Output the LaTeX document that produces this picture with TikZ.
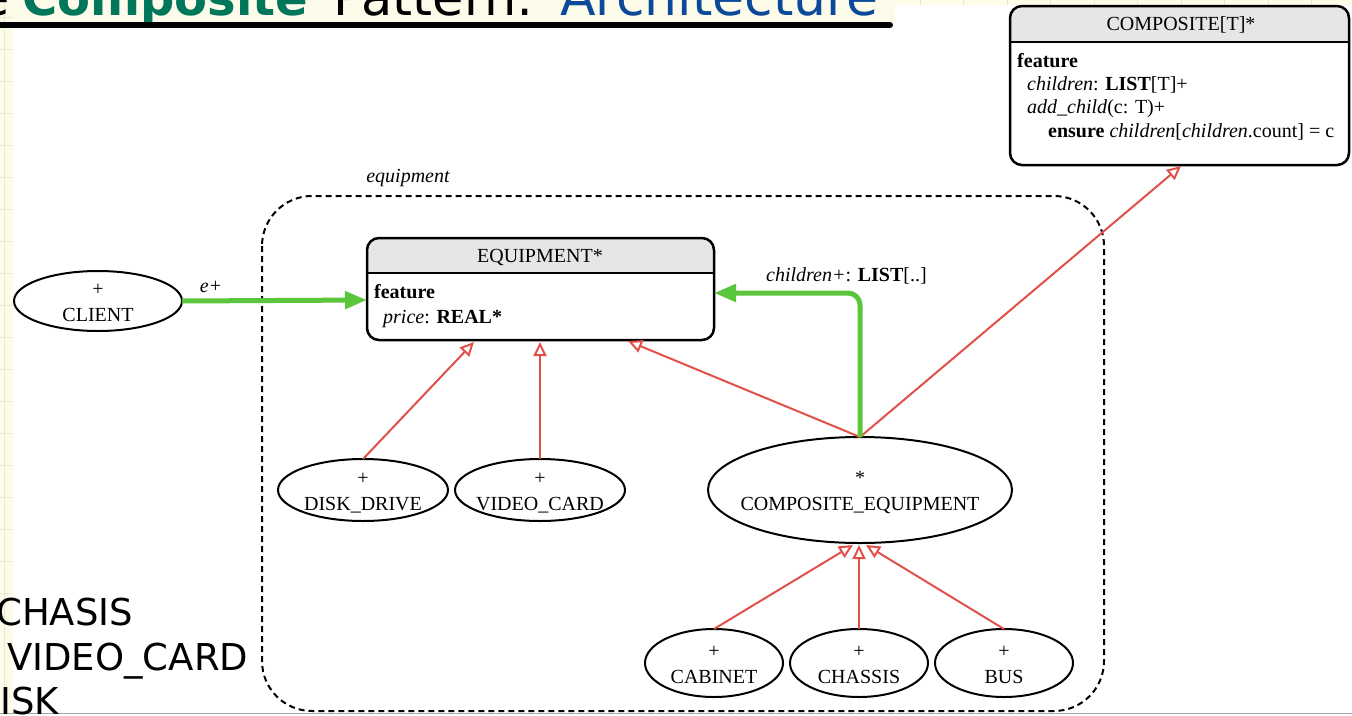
\documentclass[tikz,border=0pt]{standalone}
\usepackage{fontspec}
\setmainfont{Liberation Serif}
\newfontfamily\titlefont{DejaVu Sans}
\usetikzlibrary{arrows.meta,shapes.geometric}
\definecolor{hdr}{HTML}{E6E6E6}
\definecolor{gr}{HTML}{5BC63B}
\definecolor{rd}{HTML}{E2504A}
\definecolor{tgreen}{HTML}{00775A}
\definecolor{tblue}{HTML}{0B4A9B}
\definecolor{paper}{HTML}{FDFBEA}
\definecolor{gridc}{HTML}{ECE7CF}
\begin{document}
\begin{tikzpicture}[x=1pt,y=-1pt,
  font=\fontsize{20}{24}\selectfont,
  oval/.style={ellipse, draw, line width=2pt, inner sep=0pt, outer sep=0pt},
  umlbox/.style={rectangle, draw, line width=2.5pt, rounded corners=12pt, inner sep=0pt, outer sep=0pt, anchor=north west},
  inh/.style={draw=rd, line width=2pt, -{Triangle[open, length=14pt, width=13pt]}},
  assoc/.style={draw=gr, line width=5pt, -{Triangle[length=22pt, width=17pt]}},
  txt/.style={anchor=base, inner sep=0pt},
  txtl/.style={anchor=base west, inner sep=0pt},
  big/.style={anchor=base west, inner sep=0pt, font=\titlefont\fontsize{51}{54}\selectfont},
  side/.style={anchor=base west, inner sep=0pt, font=\titlefont\fontsize{37}{42}\selectfont},
]
\useasboundingbox (0,0) rectangle (1352,715);
\clip (0,0) rectangle (1352,715);
\fill[white] (0,0) rectangle (1352,715);
% paper strips
\fill[paper] (0,0) rectangle (13,715);
\fill[paper] (0,0) rectangle (1352,5);
\fill[paper] (0,0) rectangle (895,22);
\foreach \yy in {17,49,81,113,145,177,209,241,273,305,337,369,401,433,465,497,529,561,593}
  \draw[gridc, line width=0.8pt] (0,\yy) -- (13,\yy);
\draw[gridc, line width=0.8pt] (4,0) -- (4,715);
\foreach \xx in {920,963,1007,1050,1094,1137,1181,1224,1268,1311}
  \draw[gridc, line width=0.8pt] (\xx,0) -- (\xx,5);
% bottom line
\draw[gray!70, line width=1.5pt] (0,713.5) -- (1352,713.5);

% title
\node[big, anchor=base east] (te) at (10,15) {e};
\node[big, text=tgreen, font=\titlefont\fontsize{48}{50}\selectfont\bfseries] (tc) at (22,15) {Composite};
\node[big] (tp) at (333,15) {Pattern:};
\node[big, text=tblue, font=\titlefont\fontsize{52}{54}\selectfont] (ta) at (560,15) {Architecture};
\draw[line width=6pt, line cap=round] (-5,25) -- (890,25);

% side text
\node[side] (s1) at (-4,625) {CHASIS};
\node[side] (s2) at (7,670) {VIDEO\_CARD};
\node[side] (s3) at (0,714) {ISK};

% cluster
\draw[dashed, dash pattern=on 6pt off 4pt, line width=2pt, rounded corners=50pt] (262,196) rectangle (1104,711);
\node[txt] (cl) at (408,182) {\itshape equipment};

% COMPOSITE box
\begin{scope}
\clip[rounded corners=12pt] (1010,6) rectangle (1349,165);
\fill[hdr] (1010,6) rectangle (1349,42);
\end{scope}
\draw[line width=2pt] (1010,42) -- (1349,42);
\node[umlbox, minimum width=339pt, minimum height=159pt] (comp) at (1010,6) {};
\node[txt] (compt) at (1181,30) {COMPOSITE[T]*};
\node[txtl] (cf) at (1017,67) {\textbf{feature}};
\node[txtl] (cc) at (1027,90) {\textit{children}: \textbf{LIST}[T]+};
\node[txtl] (ca) at (1027,113) {\textit{add\_child}(c: T)+};
\node[txtl] (ce) at (1048,137) {\textbf{ensure} \textit{children}[\textit{children}.count] = c};

% EQUIPMENT box
\begin{scope}
\clip[rounded corners=12pt] (367,238) rectangle (714,340);
\fill[hdr] (367,238) rectangle (714,273);
\end{scope}
\draw[line width=2pt] (367,273) -- (714,273);
\node[umlbox, minimum width=347pt, minimum height=102pt] (equip) at (367,238) {};
\node[txt] (eqt) at (540,262) {EQUIPMENT*};
\node[txtl] (ef) at (374,298) {\textbf{feature}};
\node[txtl] (ep) at (383,323) {\textit{price}: \textbf{REAL*}};

% ellipses
\node[oval, minimum width=168pt, minimum height=60pt] (client) at (98,301) {};
\node[txt] (client1) at (98,295.5) {+};
\node[txt] (client2) at (98,321.5) {CLIENT};

\node[oval, minimum width=170pt, minimum height=62pt] (disk) at (363,490) {};
\node[txt] (disk1) at (363,484.5) {+};
\node[txt] (disk2) at (363,510.5) {DISK\_DRIVE};

\node[oval, minimum width=170pt, minimum height=62pt] (video) at (540,490) {};
\node[txt] (video1) at (540,484.5) {+};
\node[txt] (video2) at (540,510.5) {VIDEO\_CARD};

\node[oval, minimum width=304pt, minimum height=106pt] (ceq) at (860,490) {};
\node[txt] (ceq1) at (860,484.5) {*};
\node[txt] (ceq2) at (860,510.5) {COMPOSITE\_EQUIPMENT};

\node[oval, minimum width=138pt, minimum height=68pt] (cab) at (714,663) {};
\node[txt] (cab1) at (714,657.5) {+};
\node[txt] (cab2) at (714,683.5) {CABINET};

\node[oval, minimum width=138pt, minimum height=68pt] (chas) at (859,663) {};
\node[txt] (chas1) at (859,657.5) {+};
\node[txt] (chas2) at (859,683.5) {CHASSIS};

\node[oval, minimum width=138pt, minimum height=68pt] (bus) at (1004,663) {};
\node[txt] (bus1) at (1004,657.5) {+};
\node[txt] (bus2) at (1004,683.5) {BUS};

% endpoints
\coordinate (eqL) at (367,300);
\coordinate (eqR) at (714,293);
\coordinate (eqB1) at (474,342);
\coordinate (eqB2) at (540,342);
\coordinate (eqB3) at (628,341);
\coordinate (compB) at (1181,166);
\coordinate (ceqB1) at (853,545);
\coordinate (ceqB2) at (859,545);
\coordinate (ceqB3) at (866,545);

% inheritance
\draw[inh] (disk.north) -- (eqB1);
\draw[inh] (video.north) -- (eqB2);
\draw[inh] (ceq.north) -- (eqB3);
\draw[inh] (ceq.north) -- (compB);
\draw[inh] (cab.north) -- (ceqB1);
\draw[inh] (chas.north) -- (ceqB2);
\draw[inh] (bus.north) -- (ceqB3);

% associations
\draw[assoc] (client.east) -- (eqL);
\node[txt] (el) at (211,292) {\itshape e+};
\draw[assoc, rounded corners=12pt] (ceq.north) |- (eqR);
\node[txtl] (chl) at (766,281) {\textit{children+}: \textbf{LIST}[..]};
\end{tikzpicture}
\end{document}
